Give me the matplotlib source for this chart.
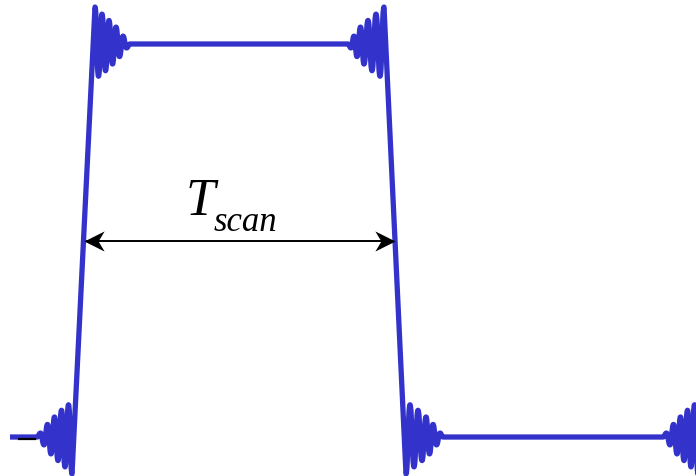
import numpy as np
import matplotlib
matplotlib.use("Agg")
import matplotlib.pyplot as plt
from matplotlib.path import Path
from matplotlib.patches import PathPatch

# signal levels
low, high = 0.0, 1.0

# ringing extrema, starting at the edge and moving away from it
ring_amp = [0.094, 0.082, 0.076, 0.068, 0.060, 0.051, 0.043, 0.032, 0.020, 0.010, 0.0]

# times (ns) of the ringing extrema around each edge
rise1_pre = [72, 68.5, 65, 61.5, 58, 54.5, 51, 47.5, 44, 40.5, 37]
rise1_post = [95, 98.5, 102, 105.5, 109, 112.5, 116, 119.5, 123, 126.5, 130]
fall_pre = [384, 380, 376, 372, 368, 364, 360.5, 357, 354, 351, 348]
fall_post = [406, 410, 414, 418, 422, 426, 429.5, 433, 436.5, 440, 443]
rise2_pre = [698, 694.5, 691, 687.5, 684, 680.5, 677, 673.5, 670, 666.5, 663]

t_start, t_end = 10, 720
baseline_mark = [19, 35]


def ring(times, level, sign):
    amp = np.array(ring_amp) * sign * (-1) ** np.arange(len(ring_amp))
    return np.array(times, float), level + amp


segs = []
segs.append((np.array([t_start]), np.array([low])))
t, v = ring(rise1_pre, low, -1); segs.append((t[::-1], v[::-1]))
segs.append(ring(rise1_post, high, +1))
t, v = ring(fall_pre, high, +1); segs.append((t[::-1], v[::-1]))
segs.append(ring(fall_post, low, -1))
t, v = ring(rise2_pre, low, -1); segs.append((t[::-1], v[::-1]))
segs.append((np.array([t_end]), np.array([high])))

t_all = np.concatenate([s[0] for s in segs])
v_all = np.concatenate([s[1] for s in segs])

# straight edges and flats, smooth bezier lobes between close extrema
verts = [(t_all[0], v_all[0])]
codes = [Path.MOVETO]
for i in range(1, len(t_all)):
    t0, v0, t1, v1 = t_all[i - 1], v_all[i - 1], t_all[i], v_all[i]
    if t1 - t0 < 6:
        h = (t1 - t0) * 0.5
        verts += [(t0 + h, v0), (t1 - h, v1), (t1, v1)]
        codes += [Path.CURVE4] * 3
    else:
        verts.append((t1, v1))
        codes.append(Path.LINETO)
wave = Path(verts, codes)

fig = plt.figure(figsize=(6.96, 4.77), dpi=100)
ax = fig.add_axes([0, 0, 1, 1])
ax.set_xlim(0, 696)
ax.set_ylim(-0.0992, 1.1145)
ax.axis("off")

ax.add_patch(PathPatch(wave, fill=False, edgecolor="#3333cc", lw=3.8,
                       joinstyle="round", capstyle="butt"))
ax.plot(baseline_mark, [low - 0.005] * 2, color="black", lw=1.6)

# half-level crossing of each edge gives the scan interval
mid = (low + high) / 2
t_rise = np.interp(mid, [low - ring_amp[0], high + ring_amp[0]], [rise1_pre[0], rise1_post[0]])
t_fall = np.interp(mid, [low - ring_amp[0], high + ring_amp[0]], [fall_post[0], fall_pre[0]])

ax.plot([t_rise + 3, t_fall - 3], [mid, mid], color="black", lw=1.4)
head = Path([(0, 0), (-1, 0.5), (-0.7, 0), (-1, -0.5), (0, 0)],
            [Path.MOVETO, Path.LINETO, Path.LINETO, Path.LINETO, Path.CLOSEPOLY])
head_l = Path([(0, 0), (1, 0.5), (0.7, 0), (1, -0.5), (0, 0)], head.codes)
ax.plot([t_fall], [mid], marker=head, ms=29, color="black", mew=0)
ax.plot([t_rise], [mid], marker=head_l, ms=29, color="black", mew=0)

ax.text(186, 0.567, "T", fontsize=38, family="Liberation Serif", style="italic",
        ha="left", va="baseline")
ax.text(214, 0.527, "scan", fontsize=25, family="Liberation Serif", style="italic",
        ha="left", va="baseline")

fig.savefig("out.png", dpi=100)
